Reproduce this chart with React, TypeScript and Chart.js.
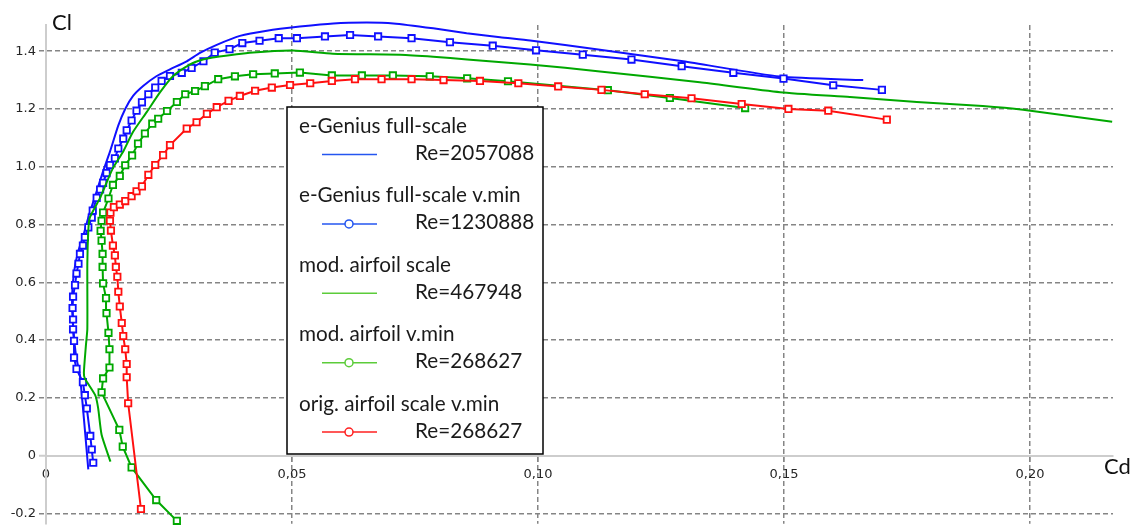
import { useEffect, useRef } from 'react';
import { Chart, registerables } from 'chart.js';

Chart.register(...registerables);

// ---------- data (Cd on x, Cl on y) ----------
const seriesLabels = [
  'e-Genius full-scale',
  'e-Genius full-scale v.min',
  'mod. airfoil scale',
  'mod. airfoil v.min',
  'orig. airfoil scale v.min',
];
const seriesRe = ['Re=2057088', 'Re=1230888', 'Re=467948', 'Re=268627', 'Re=268627'];

const fullScaleCd = [0.0086, 0.0069, 0.0061, 0.0055, 0.0053, 0.0057, 0.0065, 0.0075, 0.0086, 0.0103, 0.0116, 0.0130, 0.0147, 0.0161, 0.0177, 0.0198, 0.0225, 0.0252, 0.0286, 0.0313, 0.0347, 0.0394, 0.0449, 0.0516, 0.0584, 0.0652, 0.0706, 0.0787, 0.0855, 0.0923, 0.0984, 0.1126, 0.1295, 0.1492, 0.1661];
const fullScaleCl = [-0.048, 0.277, 0.345, 0.448, 0.550, 0.636, 0.704, 0.756, 0.824, 0.915, 0.984, 1.052, 1.143, 1.200, 1.245, 1.280, 1.314, 1.337, 1.365, 1.394, 1.422, 1.453, 1.471, 1.485, 1.496, 1.499, 1.496, 1.479, 1.462, 1.448, 1.437, 1.405, 1.365, 1.312, 1.300];

const fullVminCd = [0.0096, 0.0093, 0.0090, 0.0083, 0.0079, 0.0075, 0.0062, 0.0057, 0.0057, 0.0055, 0.0055, 0.0054, 0.0055, 0.0059, 0.0062, 0.0066, 0.0069, 0.0075, 0.0079, 0.0086, 0.0093, 0.0095, 0.0103, 0.0110, 0.0116, 0.0123, 0.0130, 0.0140, 0.0147, 0.0157, 0.0164, 0.0174, 0.0184, 0.0195, 0.0208, 0.0222, 0.0235, 0.0252, 0.0276, 0.0296, 0.0320, 0.0343, 0.0373, 0.0399, 0.0434, 0.0473, 0.0510, 0.0567, 0.0618, 0.0675, 0.0743, 0.0821, 0.0908, 0.0996, 0.1091, 0.1190, 0.1292, 0.1397, 0.1499, 0.1600, 0.1699];
const fullVminCl = [-0.025, 0.021, 0.068, 0.163, 0.209, 0.254, 0.300, 0.339, 0.397, 0.437, 0.471, 0.511, 0.550, 0.590, 0.630, 0.664, 0.698, 0.727, 0.756, 0.790, 0.824, 0.848, 0.892, 0.921, 0.944, 0.978, 1.006, 1.029, 1.063, 1.097, 1.126, 1.160, 1.194, 1.223, 1.251, 1.274, 1.297, 1.314, 1.325, 1.342, 1.365, 1.395, 1.407, 1.428, 1.436, 1.445, 1.445, 1.451, 1.456, 1.451, 1.445, 1.431, 1.419, 1.403, 1.388, 1.371, 1.348, 1.325, 1.305, 1.282, 1.266];

const modScaleCd = [0.0131, 0.0113, 0.0106, 0.0100, 0.0079, 0.0077, 0.0081, 0.0084, 0.0084, 0.0086, 0.0089, 0.0110, 0.0116, 0.0136, 0.0157, 0.0177, 0.0205, 0.0232, 0.0258, 0.0293, 0.0319, 0.0339, 0.0421, 0.0502, 0.0583, 0.0720, 0.0787, 0.0856, 0.0984, 0.1126, 0.1329, 0.1492, 0.1634, 0.1770, 0.1904, 0.1986, 0.2167];
const modScaleCl = [-0.021, 0.072, 0.164, 0.209, 0.267, 0.287, 0.379, 0.438, 0.663, 0.779, 0.824, 0.892, 0.916, 0.995, 1.053, 1.121, 1.190, 1.258, 1.313, 1.354, 1.371, 1.378, 1.395, 1.402, 1.391, 1.388, 1.381, 1.371, 1.354, 1.330, 1.292, 1.258, 1.241, 1.224, 1.210, 1.197, 1.156];

const modVminCd = [0.0266, 0.0224, 0.0174, 0.0156, 0.0149, 0.0113, 0.0116, 0.0129, 0.0129, 0.0127, 0.0123, 0.0122, 0.0116, 0.0115, 0.0115, 0.0113, 0.0111, 0.0113, 0.0116, 0.0127, 0.0136, 0.0150, 0.0161, 0.0175, 0.0187, 0.0201, 0.0216, 0.0228, 0.0246, 0.0266, 0.0283, 0.0303, 0.0323, 0.0350, 0.0384, 0.0421, 0.0465, 0.0516, 0.0581, 0.0642, 0.0705, 0.0780, 0.0856, 0.0939, 0.1142, 0.1268, 0.1421];
const modVminCl = [-0.226, -0.154, -0.041, 0.031, 0.089, 0.219, 0.267, 0.305, 0.368, 0.425, 0.493, 0.545, 0.596, 0.653, 0.698, 0.744, 0.778, 0.813, 0.841, 0.890, 0.937, 0.968, 1.005, 1.039, 1.080, 1.115, 1.149, 1.166, 1.193, 1.224, 1.251, 1.262, 1.279, 1.303, 1.313, 1.320, 1.323, 1.326, 1.316, 1.316, 1.316, 1.313, 1.306, 1.296, 1.265, 1.238, 1.203];

const origVminCd = [0.0193, 0.0167, 0.0164, 0.0164, 0.0161, 0.0157, 0.0154, 0.0150, 0.0147, 0.0145, 0.0142, 0.0140, 0.0136, 0.0132, 0.0130, 0.0131, 0.0138, 0.0150, 0.0161, 0.0174, 0.0184, 0.0195, 0.0208, 0.0222, 0.0238, 0.0252, 0.0286, 0.0306, 0.0327, 0.0347, 0.0371, 0.0394, 0.0425, 0.0459, 0.0496, 0.0537, 0.0581, 0.0628, 0.0682, 0.0743, 0.0808, 0.0882, 0.0960, 0.1041, 0.1129, 0.1217, 0.1312, 0.1414, 0.1509, 0.1590, 0.1709];
const origVminCl = [-0.185, 0.181, 0.271, 0.317, 0.368, 0.414, 0.459, 0.516, 0.567, 0.619, 0.653, 0.693, 0.727, 0.779, 0.813, 0.841, 0.860, 0.869, 0.881, 0.898, 0.915, 0.932, 0.972, 1.006, 1.040, 1.075, 1.132, 1.154, 1.183, 1.206, 1.228, 1.245, 1.263, 1.274, 1.283, 1.289, 1.297, 1.303, 1.303, 1.303, 1.300, 1.297, 1.289, 1.278, 1.266, 1.251, 1.237, 1.217, 1.200, 1.194, 1.163];

const xTickValues = [0, 0.05, 0.1, 0.15, 0.2];
const xTickLabels = ['0', '0,05', '0,10', '0,15', '0,20'];
const yTickValues = [-0.2, 0, 0.2, 0.4, 0.6, 0.8, 1.0, 1.2, 1.4];
const yTickLabels = ['-0.2', '0', '0.2', '0.4', '0.6', '0.8', '1.0', '1.2', '1.4'];

const xAxisTitle = 'Cd';
const yAxisTitle = 'Cl';

// ---------- styles ----------
const BLUE = '#1010ff';
const GREEN = '#00a800';
const RED = '#ff1010';
const LEGEND_STYLE = [
  { color: '#2456f0', marker: false },
  { color: '#2456f0', marker: true },
  { color: '#5ccc3a', marker: false },
  { color: '#5ccc3a', marker: true },
  { color: '#ff2020', marker: true },
];
const GRID_COLOR = '#858585';
const AXIS_COLOR = '#cdcdcd';
const TICK_TEXT = '#262626';
const DASH = [5, 3];

const toPoints = (xs: number[], ys: number[]) => xs.map((x, i) => ({ x, y: ys[i] }));

const plainLine = (label: string, color: string, xs: number[], ys: number[], order: number) => ({
  label,
  data: toPoints(xs, ys),
  showLine: true,
  borderColor: color,
  backgroundColor: color,
  borderWidth: 2,
  pointRadius: 0,
  pointHoverRadius: 0,
  tension: 0.2,
  clip: false as const,
  order,
});

const markedLine = (label: string, color: string, xs: number[], ys: number[], order: number) => ({
  label,
  data: toPoints(xs, ys),
  showLine: true,
  borderColor: color,
  backgroundColor: color,
  borderWidth: 2,
  pointStyle: 'rect',
  pointRadius: 4.5,
  pointBorderWidth: 1.8,
  pointBorderColor: color,
  pointBackgroundColor: '#ffffff',
  tension: 0,
  clip: false as const,
  order,
});

const overlayPlugin = {
  id: 'polarOverlay',
  afterDraw(chart: any) {
    const ctx: CanvasRenderingContext2D = chart.ctx;
    ctx.save();
    ctx.fillStyle = '#111111';
    ctx.textAlign = 'left';
    ctx.textBaseline = 'alphabetic';
    ctx.font = '22px Lato';
    ctx.fillText(yAxisTitle, 52, 30);
    ctx.fillText(xAxisTitle, 1104, 474);

    // legend box
    const bx = 287, by = 107, bw = 256, bh = 347;
    ctx.fillStyle = '#ffffff';
    ctx.fillRect(bx, by, bw, bh);
    ctx.strokeStyle = '#000000';
    ctx.lineWidth = 1.5;
    ctx.strokeRect(bx, by, bw, bh);

    ctx.font = '20px Lato';
    const w = ctx.measureText(seriesLabels[0]).width;
    const fs = (20 * 168) / w;
    ctx.font = `${fs.toFixed(2)}px Lato`;
    seriesLabels.forEach((name, i) => {
      const base = 133 + i * 69.4;
      ctx.fillStyle = '#1a1a1a';
      ctx.fillText(name, 299, base);
      ctx.fillText(seriesRe[i], 415, base + 27);
      const ly = base + 21.5;
      const st = LEGEND_STYLE[i];
      ctx.strokeStyle = st.color;
      ctx.lineWidth = 1.5;
      ctx.beginPath();
      ctx.moveTo(322, ly);
      ctx.lineTo(377, ly);
      ctx.stroke();
      if (st.marker) {
        ctx.beginPath();
        ctx.arc(349, ly, 4, 0, Math.PI * 2);
        ctx.fillStyle = '#ffffff';
        ctx.fill();
        ctx.stroke();
      }
    });
    ctx.restore();
  },
};

export default function App() {
  const ref = useRef<HTMLCanvasElement>(null);

  useEffect(() => {
    if (!ref.current) return;
    const chart = new Chart(ref.current, {
      type: 'scatter',
      data: {
        datasets: [
          plainLine(seriesLabels[0], BLUE, fullScaleCd, fullScaleCl, 4),
          markedLine(seriesLabels[1], BLUE, fullVminCd, fullVminCl, 3),
          plainLine(seriesLabels[2], GREEN, modScaleCd, modScaleCl, 2),
          markedLine(seriesLabels[3], GREEN, modVminCd, modVminCl, 1),
          markedLine(seriesLabels[4], RED, origVminCd, origVminCl, 0),
        ] as any,
      },
      options: {
        animation: false,
        responsive: false,
        devicePixelRatio: 1,
        layout: { padding: { left: 0, top: 25, right: 1137 - 1113, bottom: 0 } },
        plugins: {
          legend: { display: false },
          tooltip: { enabled: false },
        },
        events: [],
        scales: {
          x: {
            type: 'linear',
            position: { y: 0 } as any,
            min: 0,
            max: 0.21687,
            afterBuildTicks: (s: any) => {
              s.ticks = xTickValues.map((v) => ({ value: v }));
            },
            afterFit: (s: any) => {
              s.height = 0;
              s.paddingLeft = 0;
              s.paddingRight = 0;
              s.paddingTop = 0;
              s.paddingBottom = 0;
            },
            ticks: {
              autoSkip: false,
              maxRotation: 0,
              padding: 4,
              color: TICK_TEXT,
              font: { family: 'DejaVu Sans', size: 13 },
              callback: (_v: any, i: number) => xTickLabels[i],
            },
            grid: {
              color: (c: any) => (c.tick && c.tick.value === 0 ? 'rgba(0,0,0,0)' : GRID_COLOR),
              lineWidth: 1.5,
              drawTicks: true,
              tickLength: 7,
              tickColor: (c: any) => (c.tick && c.tick.value === 0 ? 'rgba(0,0,0,0)' : GRID_COLOR),
              tickBorderDash: DASH,
            },
            border: { display: true, color: AXIS_COLOR, width: 2, dash: DASH },
          },
          y: {
            type: 'linear',
            position: 'left',
            min: -0.2359,
            max: 1.4906,
            afterBuildTicks: (s: any) => {
              s.ticks = yTickValues.map((v) => ({ value: v }));
            },
            afterFit: (s: any) => {
              s.width = 46;
              s.paddingLeft = 0;
              s.paddingRight = 0;
              s.paddingTop = 0;
              s.paddingBottom = 0;
            },
            ticks: {
              padding: 3,
              color: TICK_TEXT,
              font: { family: 'DejaVu Sans', size: 13 },
              callback: (_v: any, i: number) => yTickLabels[i],
            },
            grid: {
              color: (c: any) => (c.tick && c.tick.value === 0 ? 'rgba(0,0,0,0)' : GRID_COLOR),
              lineWidth: 1.5,
              drawTicks: true,
              tickLength: 7,
              tickColor: (c: any) => (c.tick && c.tick.value === 0 ? AXIS_COLOR : GRID_COLOR),
              tickWidth: (c: any) => (c.tick && c.tick.value === 0 ? 2 : 1.5),
              tickBorderDash: (c: any) => (c.tick && c.tick.value === 0 ? [] : DASH),
            },
            border: { display: true, color: AXIS_COLOR, width: 2, dash: DASH },
          },
        },
      } as any,
      plugins: [overlayPlugin],
    });
    return () => chart.destroy();
  }, []);

  return (
    <div style={{ position: 'absolute', left: 0, top: 0, width: 1137, height: 530, background: '#ffffff' }}>
      <canvas ref={ref} width={1137} height={530} style={{ display: 'block', width: 1137, height: 530 }} />
    </div>
  );
}
